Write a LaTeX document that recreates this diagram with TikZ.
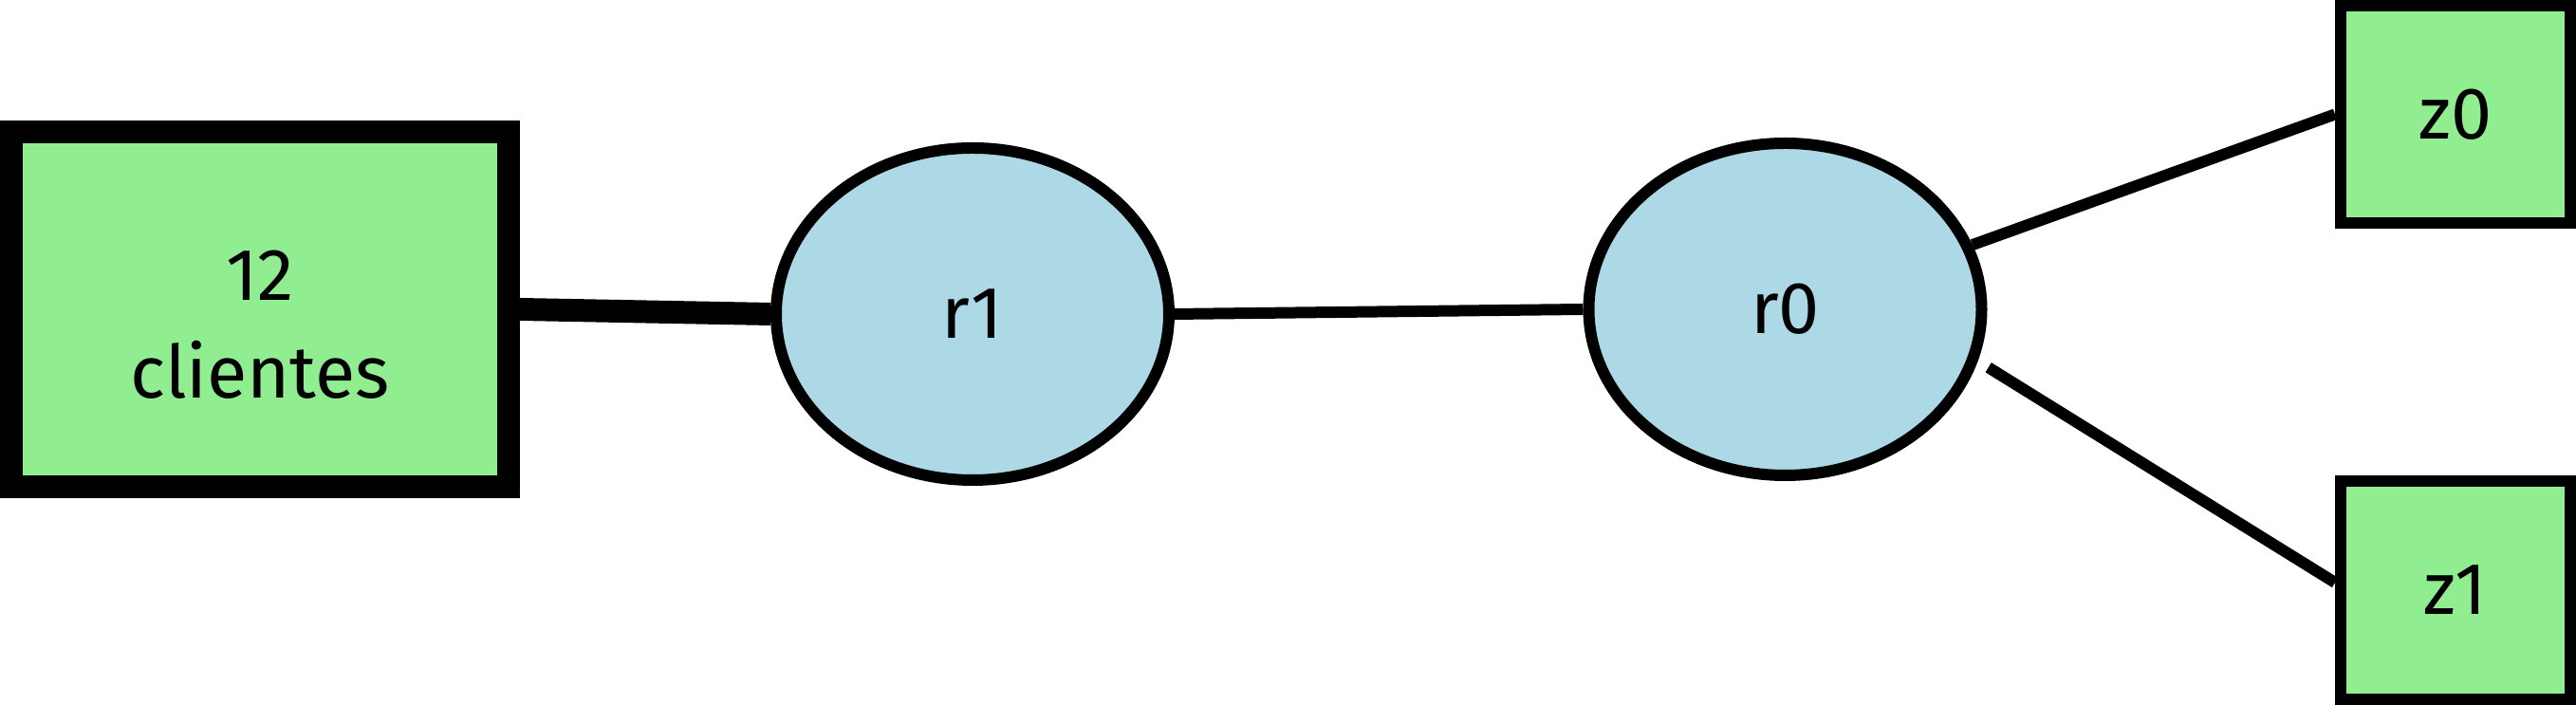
\documentclass[tikz,border=0pt]{standalone}
\usepackage{fontspec}
\setmainfont{Fira Sans}
\usetikzlibrary{shapes.geometric}
\definecolor{leafgreen}{HTML}{90EE90}
\definecolor{routerblue}{HTML}{ADD8E6}

\begin{document}
\begin{tikzpicture}[
    leaf/.style={draw, fill=leafgreen, rectangle, inner sep=0pt},
    router/.style={draw, fill=routerblue, ellipse, inner sep=0pt, line width=0.12cm, minimum width=4.14cm, minimum height=3.50cm},
    link/.style={line width=0.12cm}
  ]
                        \useasboundingbox (0.000000,0.000000) rectangle (27.150000,7.430000);
                        {\fontsize{22pt}{29.2pt}\selectfont

                        % Drawing node clientes
                        \node [leaf, line width=0.24cm, minimum width=5.24cm, minimum height=3.74cm, align=center] (clientes) at (2.740000,4.170000) {\rule{0pt}{0.855cm}12\\clientes};%

                        % Drawing node r1
                        \node [router] (r1) at (10.250000,4.120000) {r1};%

                        % Drawing node r0
                        \node [router] (r0) at (18.815000,4.170000) {r0};%

                        % Drawing nodes z0 and z1
                        \node [leaf, line width=0.12cm, minimum width=2.42cm, minimum height=2.29cm] (z0) at (25.880000,6.225000) {z0};%
                        \node [leaf, line width=0.12cm, minimum width=2.42cm, minimum height=2.30cm] (z1) at (25.880000,1.210000) {z1};%

                        % Drawing edge clientes -- r1
                        \draw [line width=0.24cm] (clientes.east) -- (r1.west);%

                        % Drawing edge r1 -- r0
                        \draw [link] (r1.east) -- (r0.west);%

                        % Drawing edges r0 -- z0 and r0 -- z1
                        \draw [link] (r0.19) -- (z0.west);%
                        \draw [link, shorten <=0.13cm] (r0.-15) -- ([yshift=0.08cm]z1.west);%
                        }
                    \end{tikzpicture}
\end{document}
